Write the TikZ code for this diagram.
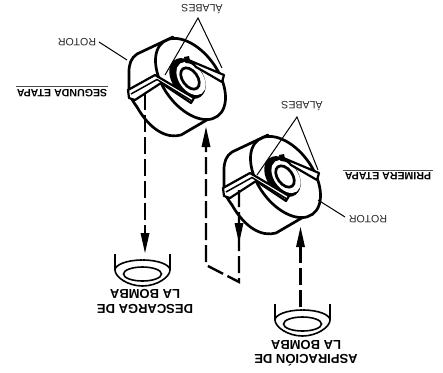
\documentclass[tikz,border=0pt]{standalone}
\usepackage{fontspec}
\setmainfont{Liberation Sans}
\usetikzlibrary{arrows.meta}
\tikzset{
  lbl/.style={font=\fontsize{10.6}{12}\selectfont,rotate=180,inner sep=0pt,text=black!85},
  boldlbl/.style={font=\bfseries\fontsize{10.6}{12}\selectfont,rotate=180,inner sep=0pt},
  biglbl/.style={font=\bfseries\fontsize{13}{15}\selectfont,rotate=180,inner sep=0pt},
  thick body/.style={line width=2.7pt,line join=round,line cap=round},
  leader/.style={line width=1pt},
  flow/.style={line width=2.4pt,dash pattern=on 17pt off 5pt},
  cup/.style={line width=1.6pt},
}
\newcommand{\rotordraw}{%
  \draw[thick body] (268,135) -- (232,152) .. controls (226,156) and (224,162) .. (224,170) -- (224,190)
     .. controls (227,198) .. (232,205) .. controls (245,228) and (262,237) .. (276,233) -- (312,212);
  \draw[thick body,fill=white,shift={(285.5,177)},rotate=-54] (0,0) ellipse (46 and 27.5);
  % hub
  \fill[shift={(282.5,176.5)},rotate=-54] (0,0) ellipse (22.5 and 15.5);
  \fill[white,shift={(286,176.5)},rotate=-54] (0,0) ellipse (18.5 and 12);
  \draw[line width=2.7pt,shift={(285,176.5)},rotate=-54] (0,0) ellipse (12 and 7.5);
  \fill (279,155) -- (284,154) -- (285,159) -- (280,160) -- cycle;
  % right vane
  \draw[line width=2.2pt,fill=white,line join=round] (281,157) -- (319,173) -- (317,180) -- (291,165) .. controls (288,161) and (285,160) .. (281,160) -- cycle;
  % L vane
  \draw[line width=2.2pt,fill=white,line join=round] (250,173) -- (223,188) -- (224,196) -- (230,198) -- (256,181) -- (286,201) -- (289,196) -- cycle;
  \draw[line width=1.5pt] (226,192) -- (252,177.5) -- (287,199);
}
\begin{document}
\begin{tikzpicture}[x=1pt,y=-1pt]
\useasboundingbox (0,0) rectangle (443,372);
% rotors
\rotordraw
\begin{scope}[shift={(-95,-98)}]\rotordraw\end{scope}
% leaders
\coordinate (a1) at (198,18); \coordinate (a1l) at (165,75); \coordinate (a1r) at (222,68);
\coordinate (a2) at (297,117); \coordinate (a2l) at (257,175); \coordinate (a2r) at (318,170);
\draw[leader] (a1l) -- (a1) -- (a1r);
\draw[leader] (a2l) -- (a2) -- (a2r);
\node[lbl] (al1) at (202,9) {ÁLABES};
\node[lbl] (al2) at (302,106) {ÁLABES};
\node[lbl] (ro1) at (77,42) {ROTOR};
\node[lbl] (ro2) at (368,219) {ROTOR};
\coordinate (r1a) at (99,42); \coordinate (r1b) at (127,60);
\coordinate (r2a) at (345,217); \coordinate (r2b) at (318,200);
\draw[leader] (r1a) -- (r1b);
\draw[leader] (r2a) -- (r2b);
% titles
\node[boldlbl] (seg) at (62,93) {SEGUNDA ETAPA};
\draw[line width=1pt,black!70] (16,86) -- (108,86);
\node[boldlbl] (pri) at (388,176.5) {PRIMERA ETAPA};
\draw[line width=1pt,black!70] (343,170) -- (433,170);
% cups
\newcommand{\cupdraw}[2]{%
  \begin{scope}[shift={(#1,#2)}]
  \draw[cup] (115,254) -- (115,270) .. controls (115,277) and (128,286) .. (142.5,286) .. controls (157,286) and (170,277) .. (170,270) -- (170,254);
  \draw[cup] (142.5,260) .. controls (126,260) and (115,265) .. (115,270);
  \draw[cup] (142.5,260) .. controls (159,260) and (170,265) .. (170,270);
  \draw[cup] (142.5,274) ellipse (19 and 7);
  \end{scope}}
\cupdraw{0}{0}
\cupdraw{160}{50}
\node[biglbl] (d1) at (145,294) {LA BOMBA};
\node[biglbl] (d2) at (145,309) {DESCARGA DE};
\node[biglbl] (s1) at (306,345) {LA BOMBA};
\node[biglbl] (s2) at (306,360) {ASPIRACIÓN DE};
% flows
\coordinate (f1s) at (145,93); \coordinate (f1e) at (145,235);
\draw[flow] (f1s) -- (f1e);
\fill (140.5,233) -- (149.5,233) -- (145,253) -- cycle;
\coordinate (f3s) at (300.5,307); \coordinate (f3e) at (300.5,245);
\draw[flow] (f3s) -- (f3e);
\fill (296,247) -- (305,247) -- (300.5,227) -- cycle;
\coordinate (f2a) at (239,190); \coordinate (f2b) at (239,282); \coordinate (f2c) at (206,265); \coordinate (f2d) at (206,145);
\draw[flow] (f2a) -- (f2b) -- (f2c) -- (f2d);
\fill (234.5,223) -- (243.5,223) -- (239,243) -- cycle;
\fill (201.5,147) -- (210.5,147) -- (206,127) -- cycle;
\end{tikzpicture}
\end{document}
